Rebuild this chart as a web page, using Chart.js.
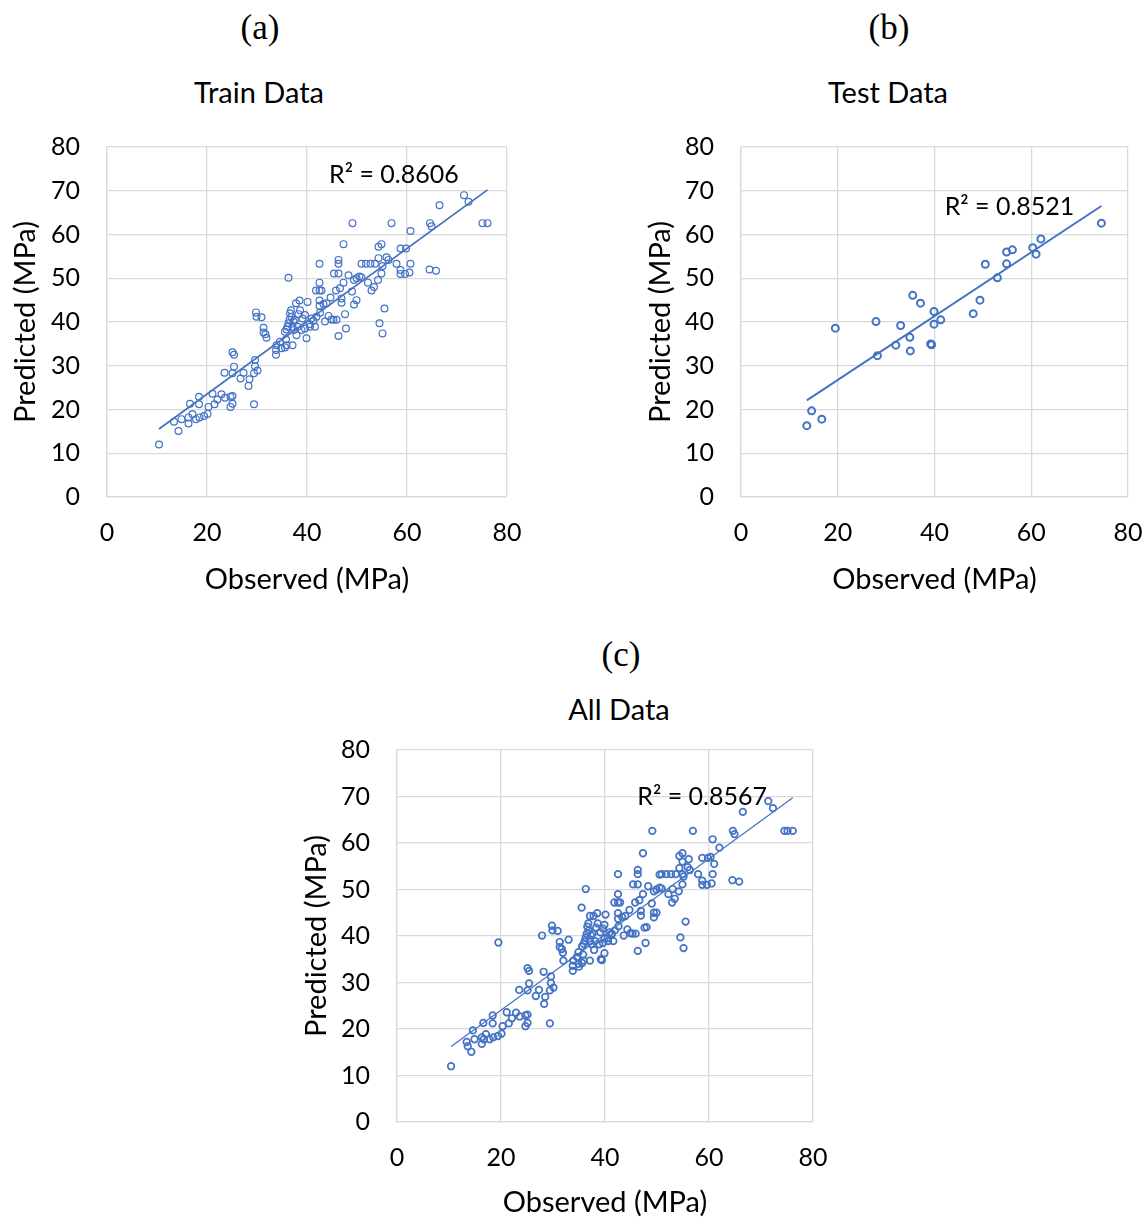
<!DOCTYPE html>
<html>
<head>
<meta charset="utf-8">
<title>Observed vs Predicted</title>
<script src="https://cdn.jsdelivr.net/npm/chart.js@4.4.0/dist/chart.umd.min.js"></script>
<style>
  body { margin: 0; width: 1148px; height: 1217px; background: #fff; position: relative; overflow: hidden; }
  .lbl { position: absolute; transform: translate(-50%, -50%); white-space: nowrap; color: #000; }
  .letter { font-family: "Liberation Serif", serif; font-size: 35px; }
  .ttl { font-family: Lato, sans-serif; font-size: 29px; }
  canvas { position: absolute; }
</style>
</head>
<body>
<div class="lbl letter" style="left:260px;top:28px">(a)</div>
<div class="lbl ttl" style="left:259px;top:91px">Train Data</div>
<div class="lbl letter" style="left:889px;top:28px">(b)</div>
<div class="lbl ttl" style="left:888px;top:91px">Test Data</div>
<div class="lbl letter" style="left:621px;top:655px">(c)</div>
<div class="lbl ttl" style="left:619px;top:708px">All Data</div>

<canvas id="chartA" width="530" height="490" style="left:0px;top:120px"></canvas>
<canvas id="chartB" width="518" height="490" style="left:630px;top:120px"></canvas>
<canvas id="chartC" width="560" height="497" style="left:280px;top:720px"></canvas>

<script>
// tick labels
const xTicks = [0, 20, 40, 60, 80];
const yTicks = [0, 10, 20, 30, 40, 50, 60, 70, 80];

// train data
const trainObs = [
  10.4, 14.3, 13.4, 14.9, 16.3, 16.3, 17.1, 17.8, 18.5, 19.4, 20.1, 16.6, 18.4, 18.4, 20.3, 21.5, 21.1, 22.1, 22.9, 23.6,
  24.7, 25.1, 24.7, 25.1, 29.4, 23.5, 25.4, 25.1, 25.1, 25.4, 27.3, 26.7, 28.5, 28.3, 29.4, 29.6, 29.6, 30.1,
  29.8, 29.9, 30.9, 31.3, 31.3, 31.7, 31.9, 33.8, 33.8, 33.9, 34.6, 34.9, 35.6, 35.8, 35.6, 35.9, 36.3, 35.9,
  36.1, 36.3, 36.5, 36.6, 36.8, 36.9, 37.1, 37.3, 37.4, 37.6, 37.8, 37.9, 38.1, 38.3, 38.5, 38.6, 38.9, 39.1,
  39.6, 39.9, 40.1, 40.5, 41.3, 41.6, 41.9, 37.1, 39.6, 40.9, 40.6,
  42.5, 42.5, 42.5, 42.5, 41.8, 42.9, 42.6, 43.3, 43.6, 44.3, 44.7, 44.9, 45.3, 45.9, 46.3, 45.4, 46.3, 46.3,
  46.3, 45.8, 46.6, 46.9, 46.9, 47.3, 47.6, 47.8, 48.3, 49.0, 49.4, 49.4, 49.9, 49.9, 50.5, 50.9, 50.9, 51.8,
  52.7, 53.6, 52.2, 52.9, 53.4, 54.2, 54.5, 43.9, 42.5,
  71.4, 72.3, 66.5, 49.1, 56.9, 64.6, 64.9, 75.1, 76.1, 60.7, 47.3, 54.3, 54.9, 58.7, 59.8, 54.3, 55.9, 56.3,
  57.9, 55.1, 60.7, 54.9, 58.7, 58.7, 59.6, 60.5, 64.5, 65.8, 55.5, 55.1
];
const trainPred = [
  12.0, 15.1, 17.2, 17.8, 16.8, 18.2, 18.9, 17.8, 18.2, 18.5, 19.0, 21.3, 21.2, 22.9, 20.6, 21.2, 23.6, 22.3, 23.5, 22.7,
  22.9, 23.1, 20.6, 21.3, 21.2, 28.4, 29.8, 28.3, 33.1, 32.5, 28.4, 27.1, 26.9, 25.4, 28.3, 29.9, 31.3, 28.9,
  42.2, 41.2, 41.1, 38.7, 37.6, 37.2, 36.4, 33.6, 32.5, 34.7, 35.5, 34.0, 34.2, 36.0, 37.8, 38.3, 50.1, 34.7,
  38.9, 39.7, 40.5, 42.0, 42.7, 41.2, 38.9, 40.1, 38.2, 40.5, 44.3, 37.0, 38.9, 41.8, 44.9, 42.7, 38.2, 40.8,
  38.5, 36.3, 44.6, 39.5, 40.3, 38.9, 41.2, 34.7, 41.6, 40.8, 38.9,
  44.9, 47.2, 49.0, 53.3, 47.2, 47.2, 42.1, 44.1, 40.1, 41.4, 45.6, 40.6, 40.5, 40.5, 36.8, 51.1, 51.1, 53.3,
  54.2, 47.2, 47.7, 45.4, 44.4, 49.0, 41.8, 38.5, 50.7, 47.0, 44.0, 49.6, 45.0, 50.0, 50.4, 50.2, 53.3, 53.3,
  53.3, 53.3, 49.0, 47.2, 48.0, 49.6, 39.7, 44.3, 43.7,
  69.0, 67.5, 66.7, 62.6, 62.6, 62.6, 61.9, 62.6, 62.6, 60.8, 57.8, 57.2, 57.8, 56.8, 56.8, 54.6, 54.8, 54.2,
  53.3, 52.8, 53.3, 51.1, 51.9, 51.0, 51.0, 51.3, 52.0, 51.7, 43.1, 37.4
];

// test data
const testObs = [
  13.6, 14.6, 16.7, 19.5, 27.9, 28.2, 32.0, 33.0, 34.9, 35.0, 35.5, 37.1, 39.2, 39.4, 39.9, 39.9, 41.3,
  48.0, 49.4, 50.5, 53.0, 54.9, 54.9, 56.1, 60.3, 61.0, 62.0, 74.5
];
const testPred = [
  16.3, 19.7, 17.8, 38.6, 40.1, 32.3, 34.7, 39.2, 36.5, 33.4, 46.1, 44.3, 35.0, 34.8, 42.4, 39.5, 40.5,
  41.9, 45.0, 53.2, 50.1, 53.3, 56.0, 56.5, 57.0, 55.5, 59.0, 62.6
];

const allObs = trainObs.concat(testObs);
const allPred = trainPred.concat(testPred);

const r2Train = 'R² = 0.8606';
const r2Test = 'R² = 0.8521';
const r2All = 'R² = 0.8567';

const BLUE = '#4472C4';
const GRID = '#d9d9d9';
const FONT = 'Lato';

function toPoints(xs, ys) {
  return xs.map((v, i) => ({x: v, y: ys[i]}));
}

// least squares line over the x range, like excel's linear trendline
function trend(xs, ys) {
  const n = xs.length;
  let sx = 0, sy = 0, sxx = 0, sxy = 0;
  for (let i = 0; i < n; i++) {
    sx += xs[i]; sy += ys[i]; sxx += xs[i] * xs[i]; sxy += xs[i] * ys[i];
  }
  const b = (n * sxy - sx * sy) / (n * sxx - sx * sx);
  const a = (sy - b * sx) / n;
  const x0 = Math.min(...xs), x1 = Math.max(...xs);
  return [{x: x0, y: a + b * x0}, {x: x1, y: a + b * x1}];
}

const r2Label = {
  id: 'r2Label',
  afterDatasetsDraw(chart, args, o) {
    const {ctx} = chart;
    const x = chart.scales.x, y = chart.scales.y;
    ctx.save();
    ctx.font = '25px ' + FONT;
    ctx.fillStyle = '#000';
    ctx.textBaseline = 'middle';
    ctx.textAlign = 'left';
    ctx.fillText(o.text, x.getPixelForValue(o.x), y.getPixelForValue(o.y));
    ctx.restore();
  }
};

// no extra room for overflowing tick labels, the padding below is exact
function noPad(s) {
  s.paddingTop = 0; s.paddingBottom = 0; s.paddingLeft = 0; s.paddingRight = 0;
}

function makeChart(id, xs, ys, c) {
  return new Chart(document.getElementById(id), {
    type: 'scatter',
    data: {
      datasets: [
        {
          data: trend(xs, ys),
          showLine: true,
          borderColor: BLUE,
          borderWidth: c.lineWidth,
          pointRadius: 0
        },
        {
          data: toPoints(xs, ys),
          pointStyle: 'circle',
          pointRadius: c.radius,
          pointBorderWidth: c.border,
          pointBorderColor: BLUE,
          pointBackgroundColor: 'rgba(0,0,0,0)'
        }
      ]
    },
    options: {
      responsive: false,
      animation: false,
      layout: { padding: { top: c.padTop, right: c.padRight, left: 0, bottom: 0 } },
      plugins: {
        legend: { display: false },
        tooltip: { enabled: false },
        r2Label: c.r2
      },
      scales: {
        x: {
          type: 'linear',
          min: 0, max: 80,
          afterBuildTicks: s => { s.ticks = xTicks.map(v => ({value: v})); },
          afterFit: s => { s.height = c.xH; noPad(s); },
          grid: { color: GRID, lineWidth: 1.3, drawTicks: false },
          border: { color: GRID, width: 1.3 },
          ticks: { color: '#000', font: { family: FONT, size: 25 }, padding: 21, maxRotation: 0 },
          title: { display: true, text: 'Observed (MPa)', color: '#000',
                   font: { family: FONT, size: 29, lineHeight: 1.2 }, padding: { top: 0, bottom: c.xTitlePad } }
        },
        y: {
          type: 'linear',
          min: 0, max: 80,
          afterBuildTicks: s => { s.ticks = yTicks.map(v => ({value: v})); },
          afterFit: s => { s.width = c.yW; noPad(s); },
          grid: { color: GRID, lineWidth: 1.3, drawTicks: false },
          border: { color: GRID, width: 1.3 },
          ticks: { color: '#000', font: { family: FONT, size: 25 }, padding: 27 },
          title: { display: true, text: 'Predicted (MPa)', color: '#000',
                   font: { family: FONT, size: 29, lineHeight: 1.2 }, padding: { top: c.yTitlePad, bottom: 0 } }
        }
      }
    },
    plugins: [r2Label]
  });
}

makeChart('chartA', trainObs, trainPred, {
  padTop: 27, padRight: 23, yW: 107, xH: 113, yTitlePad: 8, xTitlePad: 13,
  radius: 3.4, border: 1.2, lineWidth: 1.8,
  r2: { text: r2Train, x: 44.4, y: 73.6 }
});

makeChart('chartB', testObs, testPred, {
  padTop: 27, padRight: 20, yW: 111, xH: 113, yTitlePad: 13, xTitlePad: 13,
  radius: 3.5, border: 2, lineWidth: 2,
  r2: { text: r2Test, x: 42.1, y: 66.3 }
});

makeChart('chartC', allObs, allPred, {
  padTop: 30, padRight: 27, yW: 117, xH: 95, yTitlePad: 19, xTitlePad: -3,
  radius: 3.3, border: 1.7, lineWidth: 1.2,
  r2: { text: r2All, x: 46.2, y: 69.9 }
});
</script>
</body>
</html>
